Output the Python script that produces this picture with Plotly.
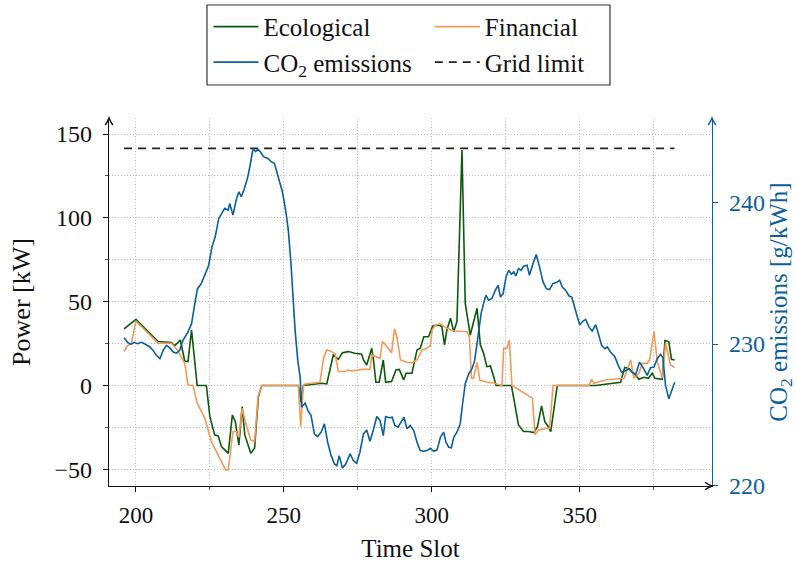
import plotly.graph_objects as go

# ---------------- data ----------------
eco_x = [196.0, 200.0, 207.5, 212.0, 213.1, 215.0, 216.5, 217.6, 218.8, 220.7, 223.8, 225.0, 226.6, 227.8,
         228.9, 231.2, 232.6, 233.6, 234.8, 235.9, 236.8, 238.8, 240.1, 241.4, 242.5, 254.9, 255.7, 256.6,
         262.8, 264.5, 266.7, 268.4, 269.8, 271.8, 274.0, 276.3, 276.9, 278.0, 279.7, 280.3, 281.1, 282.2,
         283.6, 284.4, 286.4, 287.9, 289.0, 290.5, 291.3, 293.3, 295.0, 296.1, 297.3, 298.9, 300.3, 302.3,
         303.4, 304.3, 305.1, 306.3, 307.4, 308.5, 310.2, 311.3, 313.0, 314.5, 315.3, 316.4, 317.5, 318.6,
         319.8, 320.9, 321.7, 326.9, 328.2, 329.3, 331.0, 332.7, 334.5, 335.7, 337.1, 338.2, 339.4, 340.2,
         342.4, 355.4, 363.8, 365.2, 366.6, 368.3, 370.0, 371.7, 373.2, 374.5, 375.4, 377.9, 378.8, 380.1,
         381.0, 382.1]
eco_y = [33.7, 39.5, 26.2, 25.6, 23.6, 27.1, 14.6, 14.2, 33.1, 0.0, 0.0, -18.6, -29.5, -30.1,
         -36.5, -40.5, -17.6, -21.6, -35.5, -12.6, -29.5, -40.5, -37.5, -6.6, 0.0, 0.0, -10.0, 0.0,
         1.3, 0.9, 18.2, 15.6, 19.6, 20.2, 19.2, 18.6, 15.2, 12.2, 22.2, 15.0, 1.9, 1.9,
         15.2, 1.9, 2.3, 9.2, 9.6, 3.3, 7.3, 7.3, 21.2, 22.2, 29.1, 29.1, 35.5, 36.1,
         35.1, 24.2, 33.1, 40.1, 32.1, 38.1, 140.5, 49.0, 30.1, 41.1, 46.1, 24.2, 19.2, 11.2,
         11.6, 5.3, 0.0, 0.0, -12.6, -23.6, -27.5, -27.5, -28.1, -24.6, -12.2, -21.6, -24.6, -27.5,
         0.0, 0.0, 1.9, 10.8, 10.2, 7.3, 3.7, 4.9, 4.3, 7.3, 4.3, 3.7, 26.8, 26.2,
         15.6, 15.2]

fin_x = [196.0, 197.1, 198.5, 200.0, 207.5, 212.0, 214.0, 216.5, 217.6, 219.3, 220.7, 223.3, 225.5, 227.8,
         230.3, 231.2, 232.8, 233.9, 234.8, 235.9, 237.1, 238.8, 240.1, 241.3, 242.5, 254.9, 255.7, 256.6,
         257.2, 262.2, 263.4, 264.5, 266.2, 267.3, 268.4, 270.7, 271.8, 272.9, 276.3, 279.1, 279.7, 282.5,
         283.3, 284.8, 286.4, 287.4, 288.2, 289.4, 291.6, 293.3, 295.0, 296.7, 298.4, 299.5, 300.1, 301.2,
         302.9, 305.1, 307.4, 311.9, 312.7, 313.4, 314.1, 315.3, 316.2, 318.6, 320.3, 323.7, 324.3, 325.4,
         326.2, 327.1, 334.0, 334.9, 336.0, 338.5, 339.8, 341.0, 353.1, 354.0, 354.8, 358.7, 365.0, 367.2,
         368.3, 370.0, 371.1, 372.8, 373.6, 375.1, 376.2, 377.9, 379.0, 380.7, 382.1]
fin_y = [20.2, 23.6, 25.2, 38.5, 25.2, 25.2, 21.2, 13.2, 0.3, 0.0, -10.6, -19.6, -33.5, -41.5,
         -50.4, -50.4, -27.5, -27.5, -31.0, -13.6, -22.6, -32.5, -33.5, -6.6, 0.0, 0.0, -24.6, 0.0,
         0.9, 1.9, 16.2, 21.2, 20.2, 18.8, 8.3, 8.3, 9.2, 8.6, 9.6, 9.6, 18.2, 16.2,
         26.2, 23.2, 19.5, 33.8, 29.1, 15.2, 13.8, 13.6, 15.2, 21.2, 22.2, 23.6, 33.1, 36.1,
         36.7, 34.1, 32.5, 32.1, 29.1, 4.3, 4.3, 13.8, 3.3, 1.9, 1.7, 0.0, 22.2, 22.2,
         27.1, 0.0, -7.6, -29.5, -26.5, -25.6, -25.6, 0.0, 0.0, 3.7, 1.3, 3.3, 4.3, 15.2,
         4.3, 7.3, 13.2, 13.2, 15.2, 32.1, 14.2, 4.3, 25.2, 12.2, 10.8]

co2_x = [196.0, 197.1, 198.3, 199.4, 200.5, 201.9, 203.2, 204.7, 205.8, 206.9, 208.1, 209.2, 210.3, 211.4,
         212.6, 213.7, 214.8, 215.9, 217.6, 218.8, 219.9, 220.8, 222.1, 223.5, 224.6, 225.7, 226.8, 228.0,
         229.1, 230.0, 231.2, 231.7, 232.8, 233.9, 234.8, 235.6, 236.5, 237.7, 238.5, 239.6, 240.4, 241.2,
         242.0, 243.1, 244.6, 245.7, 246.8, 248.2, 249.5, 250.6, 251.5, 252.4, 253.2, 253.8, 254.7, 255.5,
         256.0, 256.6, 257.2, 258.1, 259.2, 260.3, 261.4, 262.6, 263.7, 264.8, 266.0, 267.1, 267.9, 268.7,
         269.8, 270.9, 272.4, 273.5, 274.6, 275.7, 276.9, 278.0, 279.1, 280.2, 281.4, 282.5, 283.6, 284.4,
         285.5, 286.6, 287.5, 288.6, 289.7, 290.6, 291.6, 292.7, 293.9, 295.0, 296.1, 297.2, 298.4, 299.5,
         300.6, 301.8, 302.9, 304.0, 304.8, 305.7, 306.6, 307.4, 308.5, 309.6, 310.4, 311.3, 312.5, 313.6,
         314.5, 315.6, 316.7, 317.5, 318.3, 319.2, 320.3, 321.5, 322.4, 323.2, 324.1, 325.1, 326.0, 326.9,
         327.7, 328.4, 329.3, 330.2, 331.0, 332.2, 333.0, 334.2, 335.3, 336.4, 337.6, 338.7, 339.8, 340.9,
         342.1, 343.2, 344.1, 345.2, 346.4, 347.3, 348.4, 349.2, 350.0, 351.1, 352.0, 353.1, 354.2, 355.4,
         356.3, 357.4, 358.5, 359.3, 360.4, 361.9, 363.0, 364.1, 365.3, 366.6, 367.7, 368.9, 370.2, 371.3,
         372.8, 373.9, 375.1, 376.2, 377.3, 378.1, 379.0, 380.1, 382.1]
co2_y = [230.45, 230.14, 229.98, 230.12, 230.02, 230.12, 229.98, 229.79, 229.55, 229.20, 228.96, 229.55, 229.91, 229.74,
         229.43, 229.36, 229.55, 230.26, 230.85, 231.44, 232.86, 233.92, 234.28, 234.99, 235.58, 236.88, 237.59, 238.89,
         239.24, 239.60, 239.48, 239.95, 239.13, 240.19, 240.78, 240.43, 240.90, 241.73, 242.55, 243.85, 243.62, 243.78,
         243.62, 243.26, 243.14, 242.91, 242.79, 241.84, 240.78, 239.48, 238.06, 235.70, 232.86, 230.97, 228.84, 227.66,
         225.53, 225.65, 225.82, 225.30, 224.94, 223.64, 223.45, 223.76, 224.35, 223.05, 222.10, 221.51, 221.39, 222.10,
         221.23, 221.51, 222.22, 221.75, 221.56, 222.34, 223.64, 223.92, 223.12, 223.88, 224.87, 224.59, 223.52, 224.87,
         224.78, 224.82, 224.23, 224.11, 224.47, 224.82, 224.00, 224.23, 223.88, 223.05, 222.46, 222.41, 222.46, 222.62,
         222.41, 222.51, 223.40, 223.76, 223.05, 222.69, 222.65, 223.40, 223.76, 224.35, 225.77, 227.19, 227.90, 228.25,
         228.84, 230.50, 232.20, 232.86, 233.45, 233.10, 233.22, 233.81, 234.16, 233.33, 233.57, 234.75, 235.22, 234.94,
         235.11, 234.82, 235.34, 235.22, 235.51, 235.58, 234.87, 235.70, 236.34, 235.46, 234.40, 233.92, 233.85, 234.28,
         234.35, 234.52, 234.04, 233.81, 233.40, 233.33, 232.39, 231.91, 231.37, 231.63, 231.75, 231.21, 230.92, 231.37,
         230.73, 229.91, 229.67, 229.79, 229.43, 229.08, 228.49, 228.01, 228.09, 228.25, 228.01, 227.83, 228.72, 228.37,
         227.78, 228.32, 228.37, 228.96, 229.27, 229.03, 227.07, 226.12, 227.30]

grid_x = [196, 382]
grid_y = [141.5, 141.5]

x_ticks = [200, 250, 300, 350]
x_minor = [225, 275, 325, 375]
y_ticks = [-50, 0, 50, 100, 150]
y_minor = [-25, 25, 75, 125]
y2_ticks = [220, 230, 240]

# ---------------- style ----------------
GREEN = "#0b5a0b"
ORANGE = "#f39a5a"
BLUE = "#0a5f9c"
INK = "#111111"
FONT = "Liberation Serif"
XR = [190.9, 394.7]
YR = [-60, 159.6]
Y2R = [219.95, 246.0]
GRIDC = "#bdbdbd"
GDASH = "1px,2px"

fig = go.Figure()
fig.add_trace(go.Scatter(x=eco_x, y=eco_y, mode="lines", name="Ecological", legend="legend",
                         line=dict(color=GREEN, width=1.6)))
fig.add_trace(go.Scatter(x=fin_x, y=fin_y, mode="lines", name="Financial", legend="legend2",
                         line=dict(color=ORANGE, width=1.6)))
fig.add_trace(go.Scatter(x=co2_x, y=co2_y, mode="lines", name="CO<sub>2</sub> emissions", legend="legend",
                         line=dict(color=BLUE, width=1.6), yaxis="y2"))
fig.add_trace(go.Scatter(x=grid_x, y=grid_y, mode="lines", name="Grid limit", legend="legend2",
                         line=dict(color="#222222", width=1.6, dash="8px,6px")))

leg_common = dict(orientation="v", yanchor="top", y=1.31, xanchor="left",
                  borderwidth=0, bgcolor="rgba(0,0,0,0)", itemwidth=45, tracegroupgap=0,
                  font=dict(family=FONT, size=25, color=INK))

fig.update_layout(
    width=796, height=564,
    margin=dict(l=109, r=84, t=118, b=78, autoexpand=False),
    paper_bgcolor="white", plot_bgcolor="white",
    font=dict(family=FONT, size=22, color=INK),
    showlegend=True,
    legend=dict(x=0.165, **leg_common),
    legend2=dict(x=0.532, **leg_common),
    xaxis=dict(range=XR, tickvals=x_ticks, ticks="outside", ticklen=5, tickwidth=1.2,
               tickcolor=INK, showline=True, linecolor=INK, linewidth=1.4,
               showgrid=True, gridcolor=GRIDC, griddash=GDASH, gridwidth=1, zeroline=False,
               minor=dict(tickvals=x_minor, ticks="outside", ticklen=3, tickcolor="#555555",
                          showgrid=True, gridcolor=GRIDC, griddash=GDASH),
               tickfont=dict(family=FONT, size=23, color=INK), ticklabelstandoff=3,
               title=dict(text="Time Slot", font=dict(family=FONT, size=25, color=INK), standoff=12)),
    yaxis=dict(range=YR, tickvals=y_ticks, ticks="outside", ticklen=5, tickwidth=1.2,
               tickcolor=INK, showline=True, linecolor=INK, linewidth=1.4,
               showgrid=True, gridcolor=GRIDC, griddash=GDASH, gridwidth=1, zeroline=False,
               minor=dict(tickvals=y_minor, ticks="outside", ticklen=3, tickcolor="#555555",
                          showgrid=True, gridcolor=GRIDC, griddash=GDASH),
               tickfont=dict(family=FONT, size=24, color=INK), ticklabelstandoff=6,
               title=dict(text="Power [kW]", font=dict(family=FONT, size=26, color=INK), standoff=16)),
    yaxis2=dict(range=Y2R, tickvals=y2_ticks, overlaying="y", side="right", anchor="x",
                ticks="outside", ticklen=5, tickwidth=1.2, tickcolor=BLUE,
                showline=True, linecolor=BLUE, linewidth=1.4, showgrid=False, zeroline=False,
                tickfont=dict(family=FONT, size=24, color=BLUE), ticklabelstandoff=6,
                title=dict(text="CO<sub>2</sub> emissions [g/kWh]",
                           font=dict(family=FONT, size=25, color=BLUE), standoff=12)),
    # inner halves of the crossing tick marks
    xaxis3=dict(range=XR, tickvals=x_ticks, overlaying="x", anchor="y", side="bottom", ticks="inside",
                ticklen=5, tickwidth=1.2, tickcolor=INK, showticklabels=False,
                showgrid=False, showline=False, zeroline=False),
    yaxis3=dict(range=YR, tickvals=y_ticks, overlaying="y", anchor="x", side="left", ticks="inside",
                ticklen=5, tickwidth=1.2, tickcolor=INK, showticklabels=False,
                showgrid=False, showline=False, zeroline=False),
    yaxis4=dict(range=Y2R, tickvals=y2_ticks, overlaying="y", anchor="x", side="right", ticks="inside",
                ticklen=5, tickwidth=1.2, tickcolor=BLUE, showticklabels=False,
                showgrid=False, showline=False, zeroline=False),
)

# legend frame
fig.add_shape(type="rect", xref="paper", yref="paper", x0=0.1625, x1=0.8308, y0=1.0897, y1=1.307,
              line=dict(color="#333333", width=1.2), fillcolor="white", layer="below")

# axis arrow heads (open "->" tips at the ends of the axis lines)
def arrow_tip(xa, ya, path, color):
    fig.add_shape(type="path", xref="paper", yref="paper", xsizemode="pixel", ysizemode="pixel",
                  xanchor=xa, yanchor=ya, path=path, line=dict(color=color, width=1.4), layer="above")

UP = "M -3.8,-7 Q -1,-3 0,0 Q 1,-3 3.8,-7"
RIGHT = "M -7,3.8 Q -3,1 0,0 Q -3,-1 -7,-3.8"
arrow_tip(0, 1, UP, INK)
arrow_tip(1, 1, UP, BLUE)
arrow_tip(1, 0, RIGHT, INK)

fig.write_html("out.html")
